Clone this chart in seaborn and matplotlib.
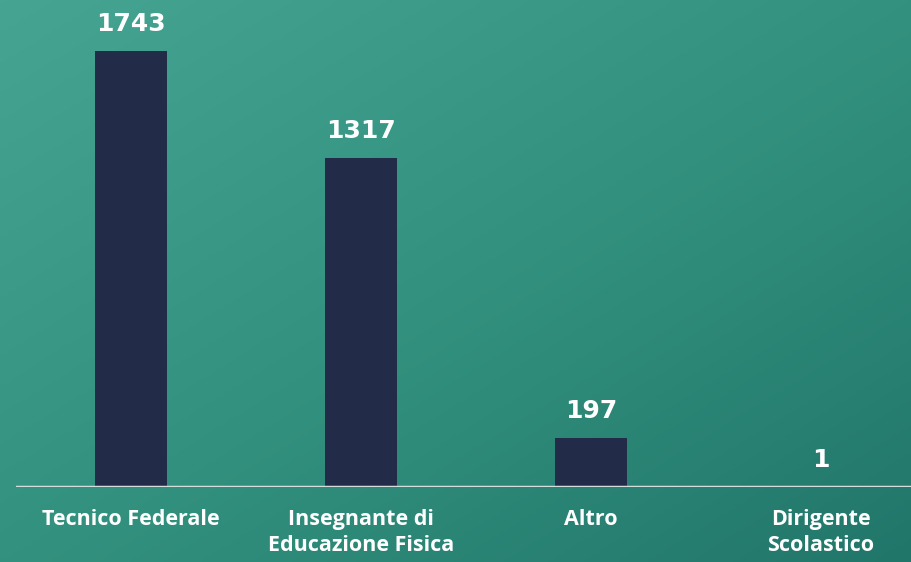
import numpy as np
import pandas as pd
import matplotlib.pyplot as plt
import seaborn as sns
from matplotlib.colors import LinearSegmentedColormap

categorie = ['Tecnico Federale', 'Insegnante di\nEducazione Fisica', 'Altro', 'Dirigente\nScolastico']
valori = [1743, 1317, 197, 1]

df = pd.DataFrame({'ruolo': categorie, 'n': valori})

fig = plt.figure(figsize=(9.12, 5.62), dpi=100)

# sfondo "lavagna" con sfumatura
bg = fig.add_axes([0, 0, 1, 1])
bg.axis('off')
yy, xx = np.mgrid[0:1:200j, 0:1:300j]
t = 0.5 * xx + 0.5 * yy
lavagna = LinearSegmentedColormap.from_list('lavagna', ['#45a592', '#33927f', '#21766a'])
bg.imshow(t, cmap=lavagna, aspect='auto', extent=[0, 1, 0, 1], origin='upper')

ax = fig.add_axes([16 / 912, 75 / 562, 920 / 912, 487 / 562])
ax.patch.set_alpha(0)
sns.barplot(data=df, x='ruolo', y='n', color='#222b47', width=0.313, saturation=1, ax=ax)
ax.set_xlim(-0.5, 3.5)
ax.set_ylim(0, 1948)

for i, v in enumerate(valori):
    ax.text(i, v + 60, str(v), ha='center', va='bottom', color='white',
            fontsize=18, fontweight='bold', family='DejaVu Sans')

ax.axhline(0, color='#d5dedc', lw=2.5)
for s in ax.spines.values():
    s.set_visible(False)
ax.set_yticks([])
ax.set_xlabel('')
ax.set_ylabel('')
ax.tick_params(axis='x', length=0, pad=16)
for lab in ax.get_xticklabels():
    lab.set_color('white')
    lab.set_fontsize(15.5)
    lab.set_fontweight('bold')
    lab.set_family('Open Sans')
    lab.set_linespacing(1.3)

fig.savefig('out.png', dpi=100)
